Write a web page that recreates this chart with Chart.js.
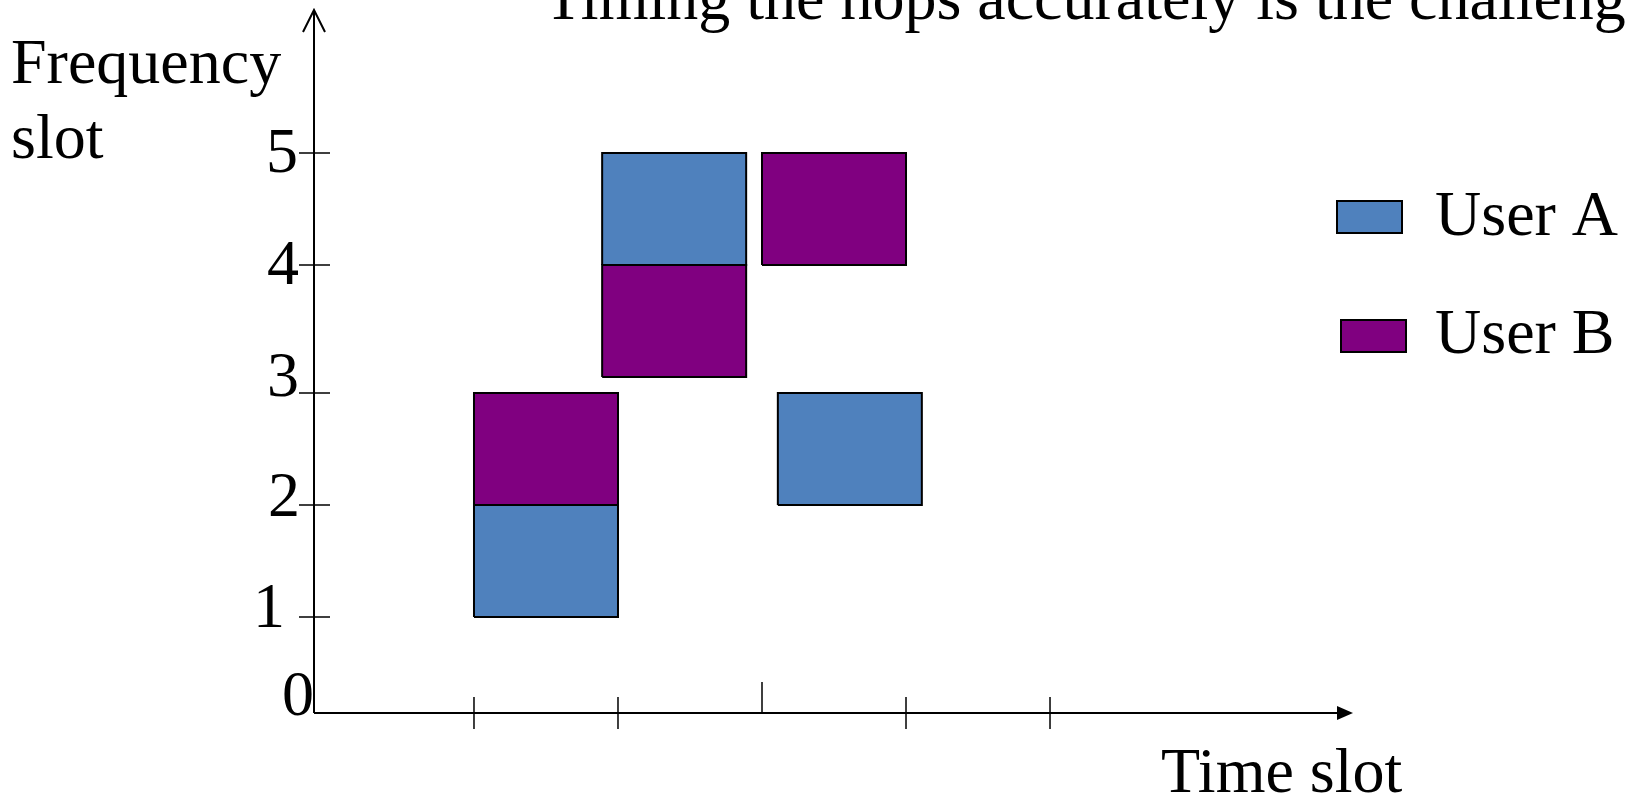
<!DOCTYPE html>
<html>
<head>
<meta charset="utf-8">
<title>Frequency hopping</title>
<script src="https://cdn.jsdelivr.net/npm/chart.js@4.4.1/dist/chart.umd.min.js"></script>
<style>
  html, body { margin: 0; padding: 0; background: #fff; overflow: hidden; }
</style>
</head>
<body>
<canvas id="chart" width="1625" height="801"></canvas>
<script>
// one entry per hop block
const blockUser = ["User A", "User B", "User A", "User B", "User B", "User A"];
const blockTimeStart = [1, 1, 1.89, 1.89, 3, 3.11];
const blockTimeEnd = [2, 2, 2.89, 2.89, 4, 4.11];
const blockFreqLow = [0.857, 1.857, 4, 3, 4, 1.857];
const blockFreqHigh = [1.857, 2.857, 5, 4, 5, 2.857];

const users = ["User A", "User B"];
const freqTicks = [0, 0.857, 1.857, 2.857, 4, 5];
const freqTickLabels = ["0", "1", "2", "3", "4", "5"];
const timeTicks = [1, 2, 3, 4, 5];
const timeMarker = 3; // slot boundary drawn only upward

const titleText = "Timing the hops accurately is the challenge";

const userColors = { "User A": "#4f81bd", "User B": "#800080" };
const FONT = '64px "Liberation Serif", "Times New Roman", serif';

// label nudges (x to right edge, y to baseline), hand placed in the original
const freqLabelShift = [[314, 2], [285, 10], [300, 11], [299, 3], [299, 19], [298, 19]];

const datasets = blockUser.map((user, i) => ({
    label: user,
    data: [
        { x: blockTimeStart[i], y: blockFreqLow[i] },
        { x: blockTimeEnd[i], y: blockFreqLow[i] },
        { x: blockTimeEnd[i], y: blockFreqHigh[i] },
        { x: blockTimeStart[i], y: blockFreqHigh[i] },
        { x: blockTimeStart[i], y: blockFreqLow[i] },
    ],
    fill: "shape",
    backgroundColor: userColors[user],
    borderColor: "#000",
    borderWidth: 2,
    pointRadius: 0,
    tension: 0,
}));

// axes with arrows, tick marks, labels and legend
const slideDecor = {
    id: "slideDecor",
    afterDraw(chart) {
        const ctx = chart.ctx;
        const xs = chart.scales.x;
        const ys = chart.scales.y;
        const x0 = xs.getPixelForValue(xs.min);
        const y0 = ys.getPixelForValue(0);
        const top = ys.getPixelForValue(ys.max);
        const right = xs.getPixelForValue(xs.max);

        ctx.save();
        ctx.strokeStyle = "#000";
        ctx.fillStyle = "#000";
        ctx.lineWidth = 2;

        // y axis with open arrow
        ctx.beginPath();
        ctx.moveTo(x0, y0);
        ctx.lineTo(x0, top);
        ctx.moveTo(x0 - 11, top + 22);
        ctx.lineTo(x0, top);
        ctx.lineTo(x0 + 11, top + 22);
        ctx.stroke();

        // x axis with filled arrow
        ctx.beginPath();
        ctx.moveTo(x0, y0);
        ctx.lineTo(right - 14, y0);
        ctx.stroke();
        ctx.beginPath();
        ctx.moveTo(right, y0);
        ctx.lineTo(right - 16, y0 - 7);
        ctx.lineTo(right - 16, y0 + 7);
        ctx.closePath();
        ctx.fill();

        ctx.lineWidth = 1.5;
        ctx.beginPath();
        freqTicks.forEach((v) => {
            if (v === 0) return;
            const py = ys.getPixelForValue(v);
            ctx.moveTo(x0 - 15, py);
            ctx.lineTo(x0 + 16, py);
        });
        timeTicks.forEach((t) => {
            const px = xs.getPixelForValue(t);
            if (t === timeMarker) {
                ctx.moveTo(px, y0 - 31);
                ctx.lineTo(px, y0);
            } else {
                ctx.moveTo(px, y0 - 16);
                ctx.lineTo(px, y0 + 16);
            }
        });
        ctx.stroke();

        ctx.font = FONT;
        ctx.textBaseline = "alphabetic";
        ctx.textAlign = "right";
        freqTicks.forEach((v, i) => {
            const [lx, dy] = freqLabelShift[i];
            ctx.fillText(freqTickLabels[i], lx, ys.getPixelForValue(v) + dy);
        });

        ctx.textAlign = "left";
        ctx.fillText("Frequency", 11, 83);
        ctx.fillText("slot", 11, 158);
        ctx.fillText("Time slot", 1161, 792);
        ctx.fillText(titleText, 544, 19);

        // legend
        const legendBoxes = [[1337, 201], [1341, 320]];
        const legendBase = [235, 353];
        users.forEach((u, i) => {
            const [bx, by] = legendBoxes[i];
            ctx.fillStyle = userColors[u];
            ctx.fillRect(bx, by, 65, 32);
            ctx.lineWidth = 2;
            ctx.strokeRect(bx, by, 65, 32);
            ctx.fillStyle = "#000";
            ctx.fillText(u, 1435, legendBase[i]);
        });
        ctx.restore();
    },
};

new Chart(document.getElementById("chart"), {
    type: "line",
    data: { datasets: datasets },
    options: {
        responsive: false,
        devicePixelRatio: 1,
        animation: false,
        events: [],
        layout: { padding: { left: 314, right: 272, top: 10, bottom: 88 } },
        scales: {
            x: { type: "linear", min: -0.111, max: 7.104, display: false },
            y: { type: "linear", min: 0, max: 6.277, display: false },
        },
        plugins: {
            legend: { display: false },
            tooltip: { enabled: false },
        },
    },
    plugins: [slideDecor],
});
</script>
</body>
</html>
